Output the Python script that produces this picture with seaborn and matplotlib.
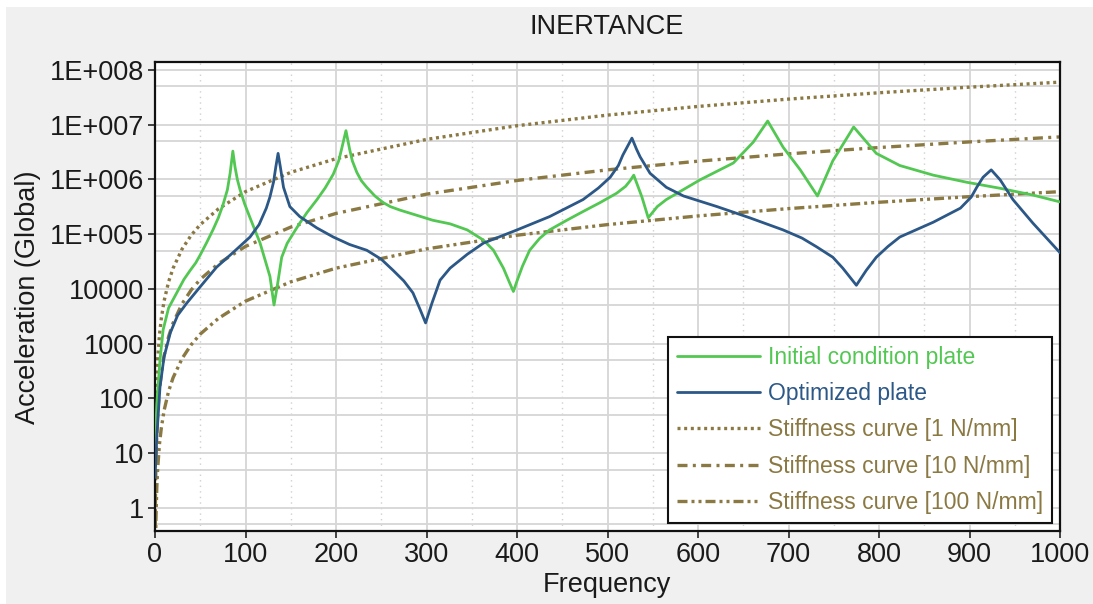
import matplotlib
matplotlib.use("Agg")
import numpy as np
import pandas as pd
import matplotlib.pyplot as plt
import seaborn as sns
from matplotlib.lines import Line2D
from matplotlib.patches import Rectangle
from matplotlib.ticker import FixedLocator, NullFormatter

# ---------------- data ----------------
title = "INERTANCE"
x_label = "Frequency"
y_label = "Acceleration (Global)"
series_labels = ["Initial condition plate", "Optimized plate",
                 "Stiffness curve [1 N/mm]", "Stiffness curve [10 N/mm]",
                 "Stiffness curve [100 N/mm]"]

initial_freq = [0, 2, 5.5, 9, 15, 24, 32, 39, 45, 50, 57, 64, 70, 75, 80, 83, 86, 88.4, 91,
                94, 99, 105, 116, 127, 131.5,
                135, 140, 146, 153, 160, 168, 179, 188, 197, 203, 206, 211, 215, 218, 223,
                228, 234, 243, 252, 260, 271, 290, 307, 326,
                345, 363, 374, 385, 391, 396, 400, 406, 414, 425, 436, 455, 473, 492, 510,
                520, 525, 529, 538, 545, 555,
                565, 602, 639, 661, 677, 694, 713, 732, 749, 772, 797, 823, 860, 897, 934,
                970, 1000]
initial_vals = [11, 80, 500, 1800, 4500, 8500, 15000, 22000, 30000, 42000, 70000, 1.2e5,
                2.0e5, 3.4e5, 6.5e5, 1.3e6, 3.3e6, 1.7e6, 1.0e6,
                6.5e5, 3.6e5, 2.0e5, 7.0e4, 1.7e4, 5100,
                1.1e4, 3.8e4, 6.8e4, 1.05e5, 1.6e5, 2.5e5, 4.3e5, 7.0e5, 1.25e6, 2.2e6,
                3.5e6, 7.8e6, 3.6e6, 2.2e6, 1.35e6,
                9.5e5, 7.2e5, 5.0e5, 3.8e5, 3.2e5, 2.75e5, 2.2e5, 1.8e5, 1.55e5,
                1.2e5, 7.8e4, 5.1e4, 2.4e4, 1.4e4, 9000, 1.4e4, 2.6e4, 5.1e4, 8.4e4, 1.2e5,
                1.8e5, 2.6e5, 3.8e5, 5.6e5,
                7.5e5, 9.5e5, 1.2e6, 4.8e5, 2.0e5, 3.2e5,
                4.3e5, 9.8e5, 2.0e6, 4.8e6, 1.17e7, 3.9e6, 1.5e6, 5.0e5, 2.2e6, 9.1e6, 3.0e6,
                1.8e6, 1.2e6, 8.9e5, 6.9e5, 5.2e5, 3.9e5]

optimized_freq = [0, 2, 5.5, 10, 17, 25, 35, 50, 68, 86, 105, 115, 123, 127, 131, 133.5, 136,
                  138.5, 142, 149,
                  160, 179, 197, 215, 234, 250, 263, 275, 285, 293, 299, 306, 315, 326, 345,
                  363, 400, 436, 473,
                  490, 503, 512, 517, 527, 532, 536, 547, 565, 584, 621, 657, 694, 715, 731,
                  749, 760, 775, 786,
                  797, 810, 823, 860, 890, 902, 908, 915, 924, 934, 948, 970, 1000]
optimized_vals = [3.6, 20, 160, 575, 1600, 3300, 5500, 1.1e4, 2.5e4, 4.6e4, 8.9e4, 1.5e5,
                  3.0e5, 4.8e5, 9.0e5, 1.7e6, 3.0e6,
                  1.7e6, 7.2e5, 3.2e5,
                  2.1e5, 1.3e5, 8.9e4, 6.5e4, 5.1e4, 3.5e4, 2.2e4, 1.4e4, 8500, 4200, 2400,
                  5500, 1.45e4, 2.4e4, 4.3e4,
                  6.9e4, 1.2e5, 2.1e5, 4.3e5,
                  7.0e5, 1.1e6, 1.8e6, 2.8e6, 5.7e6, 3.6e6, 2.6e6, 1.3e6, 7.2e5, 5.0e5, 3.2e5,
                  2.0e5, 1.2e5, 8.5e4, 5.9e4,
                  3.8e4, 2.4e4, 1.17e4, 2.2e4,
                  3.8e4, 6.0e4, 8.9e4, 1.66e5, 3.0e5, 4.8e5, 7.2e5, 1.1e6, 1.5e6, 9.8e5, 4.3e5,
                  1.6e5, 4.6e4]

stiff_freq = [0.1, 0.5, 1, 2, 3, 5, 7, 10, 15, 20, 30, 40, 50, 70, 100, 150, 200, 300, 400,
              500, 600, 700, 800, 900, 1000]
stiff_1_vals = [0.6, 15, 60, 240, 540, 1500, 2900, 6000, 13500, 24000, 54000, 96000, 1.5e5,
                2.9e5, 6.0e5, 1.35e6, 2.4e6, 5.4e6, 9.6e6, 1.5e7, 2.16e7, 2.94e7, 3.84e7,
                4.86e7, 6.0e7]
stiff_10_vals = [0.06, 1.5, 6, 24, 54, 150, 290, 600, 1350, 2400, 5400, 9600, 15000,
                 29000, 60000, 1.35e5, 2.4e5, 5.4e5, 9.6e5, 1.5e6, 2.16e6, 2.94e6, 3.84e6,
                 4.86e6, 6.0e6]
stiff_100_vals = [0.006, 0.15, 0.6, 2.4, 5.4, 15, 29, 60, 135, 240, 540, 960, 1500, 2900,
                  6000, 13500, 24000, 54000, 96000, 1.5e5, 2.16e5, 2.94e5, 3.84e5, 4.86e5,
                  6.0e5]

y_tick_values = [1, 10, 100, 1000, 10000, 1e5, 1e6, 1e7, 1e8]
y_tick_labels = ["1", "10", "100", "1000", "10000", "1E+005", "1E+006", "1E+007", "1E+008"]
x_tick_values = [0, 100, 200, 300, 400, 500, 600, 700, 800, 900, 1000]

# ---------------- styling ----------------
green = "#52c752"
blue = "#2c5887"
brown = "#8b7943"

sns.set_style("white")
plt.rcParams["font.family"] = ["Liberation Sans", "DejaVu Sans"]

W, H = 1093, 604
fig = plt.figure(figsize=(W / 100, H / 100), dpi=100)
fig.patch.set_facecolor("white")
fig.patches.append(Rectangle((6 / W, 0), 1, 1 - 7 / H, transform=fig.transFigure,
                             facecolor="#f0f0f0", edgecolor="none", zorder=-10))

ax = fig.add_axes([155 / W, 1 - 531 / H, 905 / W, 469 / H])
ax.set_facecolor("white")
ax.set_yscale("log")
ax.set_xlim(0, 1000)
ax.set_ylim(0.38, 1.4e8)

# grid
minor_y = [0.5 * v for v in [1, 10, 100, 1000, 1e4, 1e5, 1e6, 1e7, 1e8]]
ax.yaxis.set_major_locator(FixedLocator(y_tick_values))
ax.yaxis.set_minor_locator(FixedLocator(minor_y))
ax.yaxis.set_minor_formatter(NullFormatter())
ax.set_yticks(y_tick_values)
ax.set_yticklabels(y_tick_labels)
ax.set_xticks(x_tick_values)
ax.xaxis.set_minor_locator(FixedLocator([50 + 100 * i for i in range(10)]))
ax.grid(True, which="major", axis="both", color="#d6d6d6", lw=1.3, zorder=0)
ax.grid(True, which="minor", axis="y", color="#d6d6d6", lw=1.3, zorder=0)
ax.grid(True, which="minor", axis="x", color="#d0d0d0", lw=1.0, ls=(0, (1, 3)), zorder=0)
ax.set_axisbelow(True)

lw = 2.0
blw = 2.4
styles = [
    (initial_freq, initial_vals, green, "-"),
    (optimized_freq, optimized_vals, blue, "-"),
    (stiff_freq, stiff_1_vals, brown, (0, (0.9, 1.1))),
    (stiff_freq, stiff_10_vals, brown, (0, (3.0, 1.6, 0.9, 1.6))),
    (stiff_freq, stiff_100_vals, brown, (0, (3.0, 1.2, 0.9, 1.2, 0.9, 1.2))),
]
order = [2, 3, 4, 0, 1]
for i in order:
    fx, fy, col, ls = styles[i]
    df = pd.DataFrame({"f": fx, "v": fy})
    sns.lineplot(data=df, x="f", y="v", ax=ax, color=col, linestyle=ls,
                 linewidth=lw if i < 2 else blw, estimator=None, sort=False,
                 zorder=3 if i < 2 else 2)

ax.set_xlabel("")
ax.set_ylabel("")

for side in ["left", "bottom", "top", "right"]:
    ax.spines[side].set_visible(True)
    ax.spines[side].set_color("#111111")
    ax.spines[side].set_linewidth(1.6)

ax.tick_params(axis="both", which="major", direction="out", length=5, width=1.3,
               color="#333333", labelsize=19.5, labelcolor="#1a1a1a", pad=3,
               left=True, bottom=True, top=False, right=False)
ax.tick_params(axis="both", which="minor", length=0)

fig.text(607 / W, 1 - 27 / H, title, ha="center", va="center", fontsize=19.5,
         color="#1a1a1a")
fig.text(607 / W, 1 - 585 / H, x_label, ha="center", va="center", fontsize=19.5,
         color="#1a1a1a")
fig.text(28 / W, 1 - 297 / H, y_label, ha="center", va="center", rotation=90,
         fontsize=19.5, color="#1a1a1a")

# legend
handles = [Line2D([], [], color=styles[i][2], linestyle=styles[i][3],
                  lw=lw if i < 2 else blw) for i in range(5)]
leg = ax.legend(handles, series_labels, loc="lower right",
                bbox_to_anchor=(0.991, 0.017), borderaxespad=0, fontsize=16.5,
                frameon=True, fancybox=False, framealpha=1, edgecolor="#111111",
                handlelength=3.6, handletextpad=0.35, labelspacing=0.58,
                borderpad=0.4)
leg.get_frame().set_linewidth(1.5)
for txt, h in zip(leg.get_texts(), handles):
    txt.set_color(h.get_color())

fig.savefig("out.png", dpi=100, facecolor=fig.get_facecolor())
